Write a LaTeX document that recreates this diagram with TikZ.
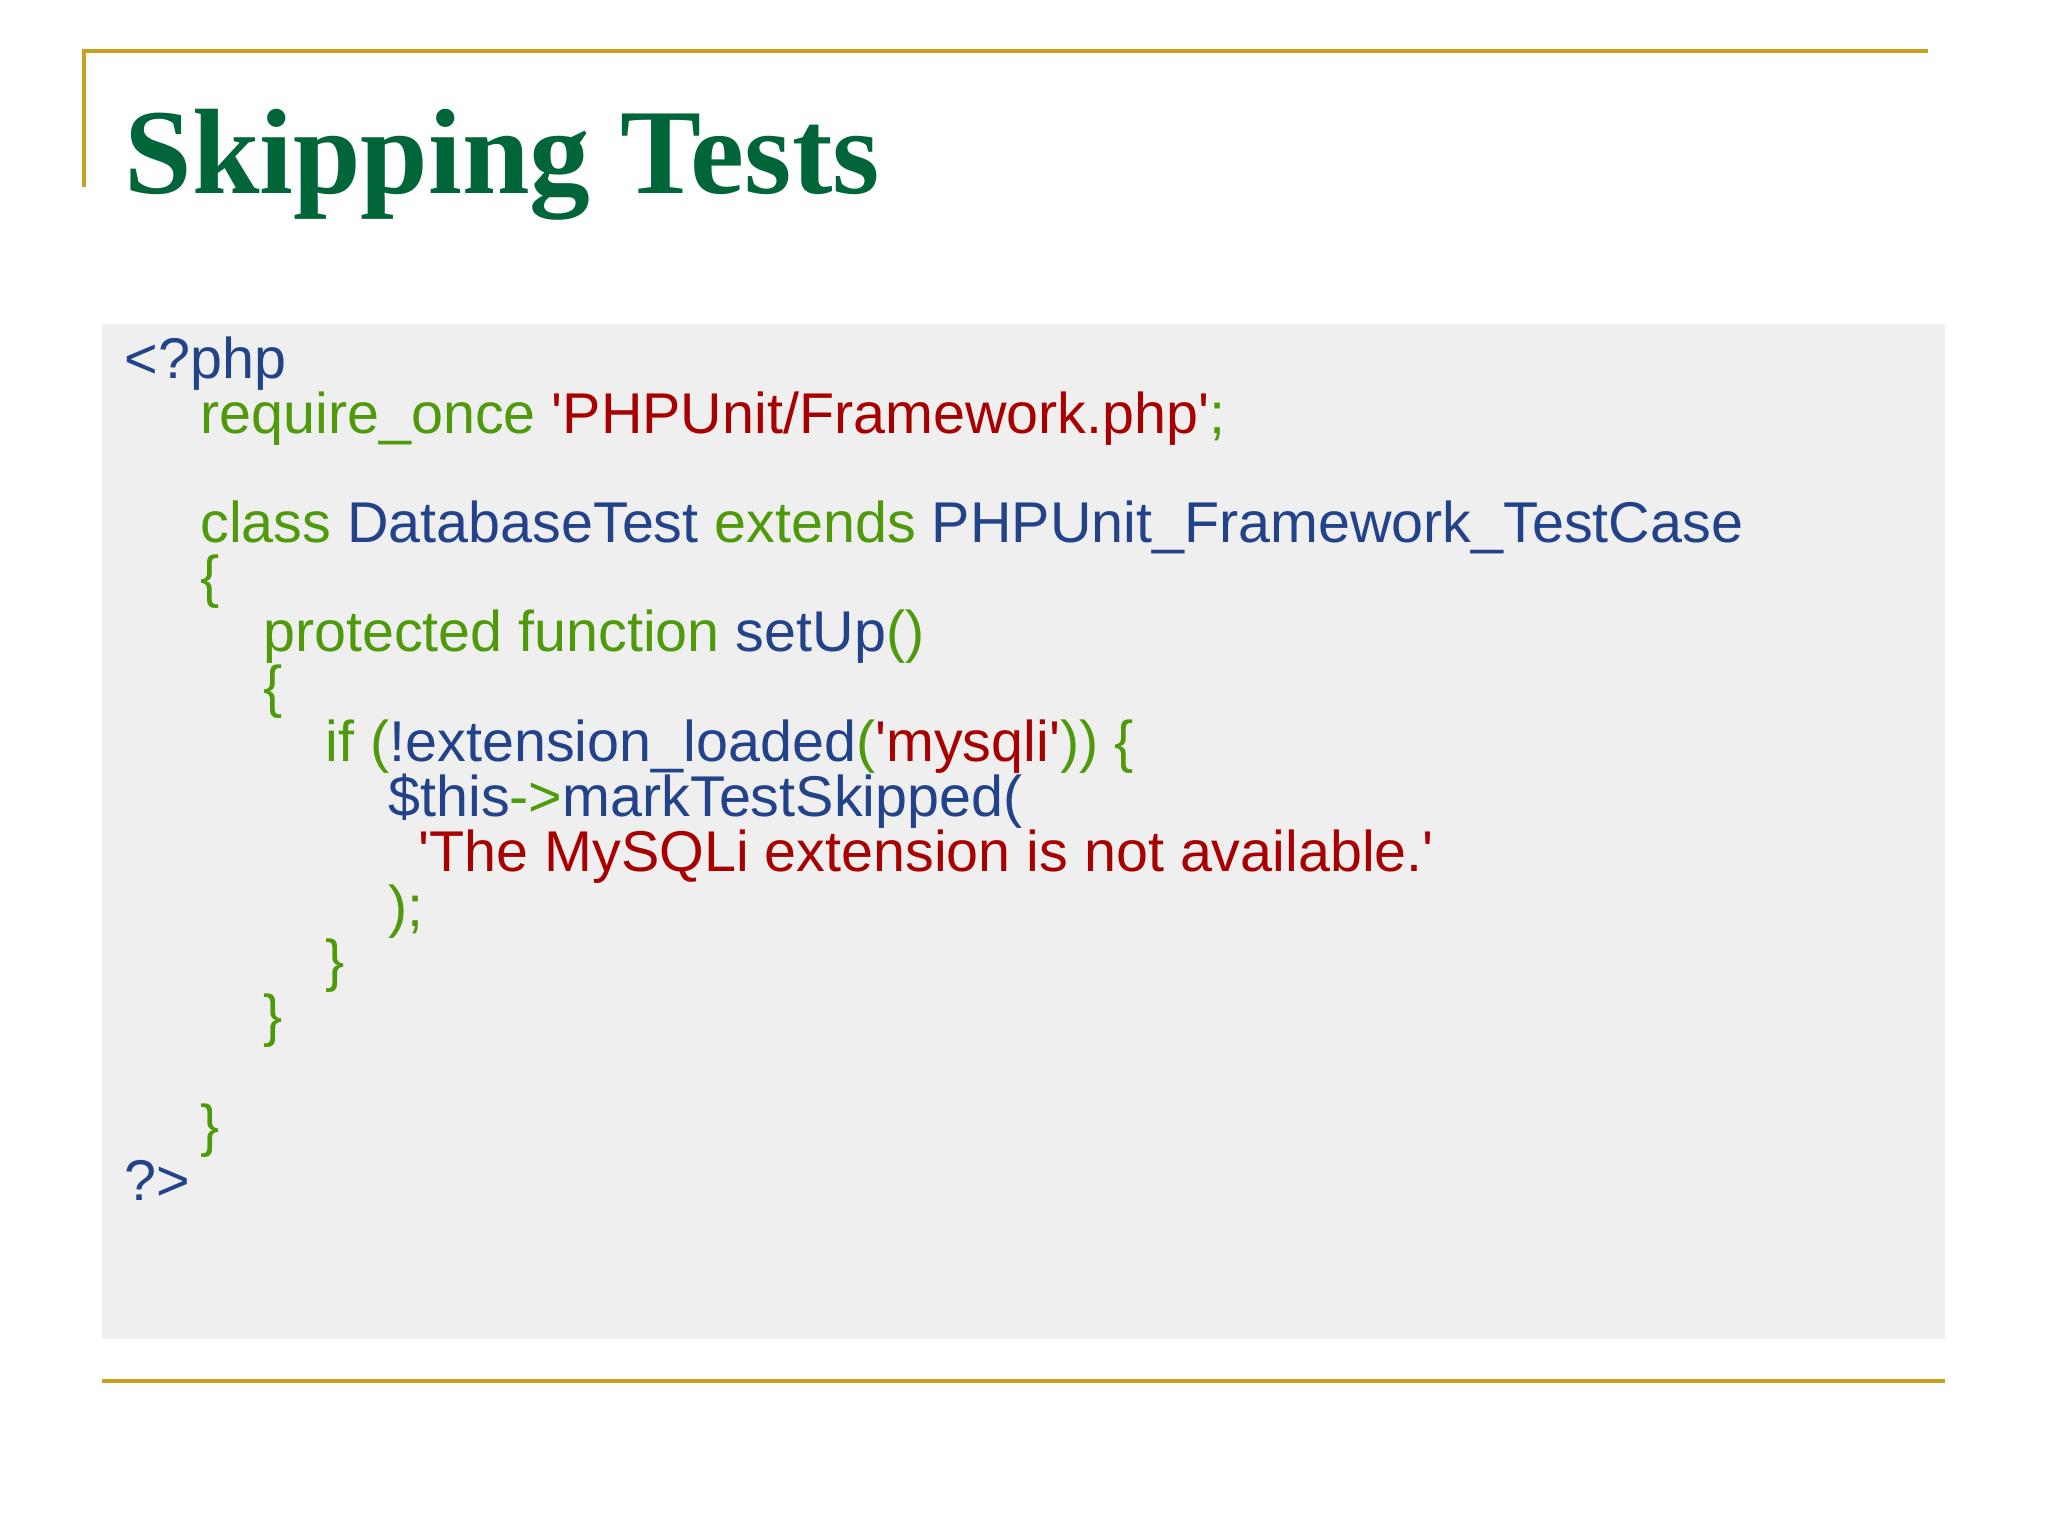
\documentclass[tikz,border=0pt]{standalone}
\usepackage{fontspec}
\setmainfont{Liberation Sans}
\newfontfamily\titlefont{Liberation Serif}
\definecolor{gold}{HTML}{C9A01E}
\definecolor{cblue}{HTML}{22428A}
\definecolor{cgreen}{HTML}{4F9A0A}
\definecolor{cred}{HTML}{A80000}
\definecolor{tgreen}{HTML}{00663A}
\definecolor{boxgray}{HTML}{EFEFEF}
\newcommand{\B}[1]{\textcolor{cblue}{#1}}
\newcommand{\G}[1]{\textcolor{cgreen}{#1}}
\newcommand{\R}[1]{\textcolor{cred}{#1}}
\newcommand{\q}{\textquotesingle}
\begin{document}
\begin{tikzpicture}[x=0.5pt,y=-0.5pt,
  code/.style={anchor=base west,inner sep=0pt,font=\fontsize{22}{26}\selectfont}]
\useasboundingbox (0,0) rectangle (1568,1176);
\fill[white] (0,0) rectangle (1568,1176);
\draw[gold,line width=1.5pt] (64,143) -- (64,39) -- (1476,39);
\fill[boxgray] (78,248) rectangle (1489,1025);
\draw[gold,line width=1.5pt] (78,1057) -- (1489,1057);
\node[anchor=base west,inner sep=0pt,text=tgreen,font=\titlefont\bfseries\fontsize{46.5}{52}\selectfont] (title) at (95,148) {Skipping Tests};
\node[code] (l1) at (95,290) {\B{<?php}};
\node[code] (l2) at (153,332) {\G{require\_once }\R{\q PHPUnit/Framework.php\q}\G{;}};
\node[code] (l4) at (153,415) {\G{class }\B{DatabaseTest }\G{extends }\B{PHPUnit\_Framework\_TestCase}};
\node[code] (l5) at (153,457) {\G{\{}};
\node[code] (l6) at (201,499) {\G{protected function }\B{setUp}\G{()}};
\node[code] (l7) at (201,541) {\G{\{}};
\node[code] (l8) at (249,583) {\G{if (}\B{!extension\_loaded}\G{(}\R{\q mysqli\q}\G{)) \{}};
\node[code] (l9) at (297,625) {\B{\$this}\G{->}\B{markTestSkipped(}};
\node[code] (l10) at (320,667) {\R{\q The MySQLi extension is not available.\q}};
\node[code] (l11) at (297,709) {\G{);}};
\node[code] (l12) at (249,751) {\G{\}}};
\node[code] (l13) at (201,793) {\G{\}}};
\node[code] (l15) at (153,877) {\G{\}}};
\node[code] (l16) at (95,919) {\B{?>}};
\end{tikzpicture}
\end{document}
